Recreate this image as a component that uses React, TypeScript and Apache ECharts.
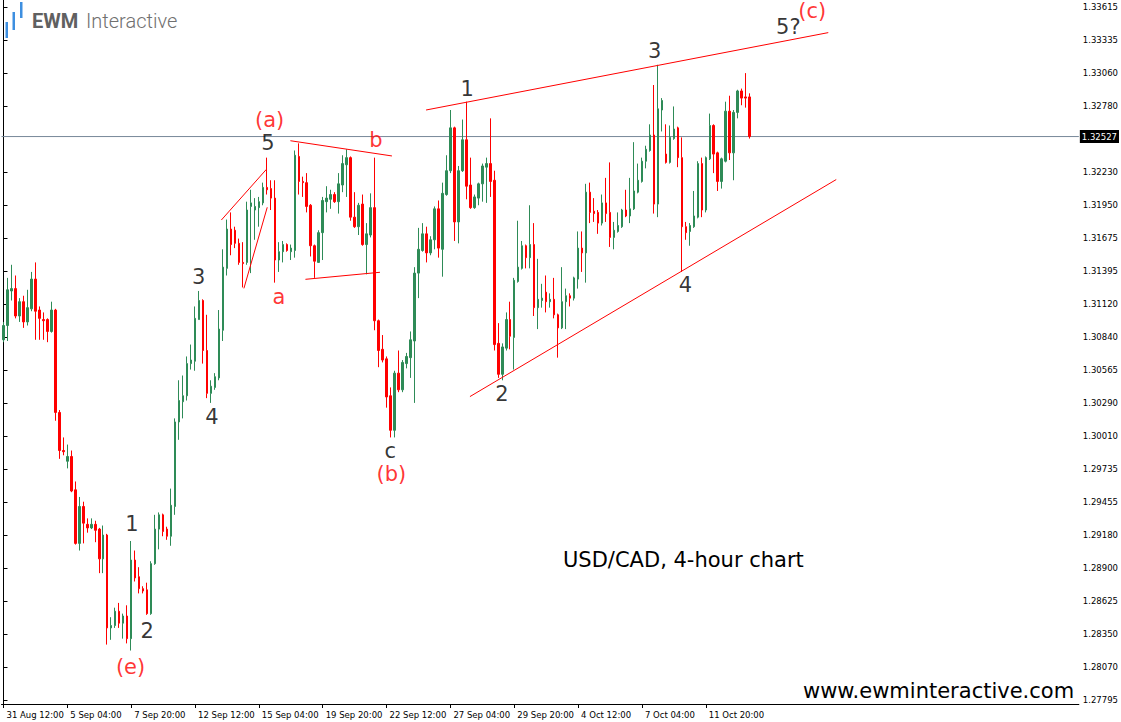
import React, { useEffect, useRef } from "react";
import * as echarts from "echarts";

// ---- data ----
const xTickLabels = [
  "31 Aug 12:00", "5 Sep 04:00", "7 Sep 20:00", "12 Sep 12:00", "15 Sep 04:00", "19 Sep 20:00",
  "22 Sep 12:00", "27 Sep 04:00", "29 Sep 20:00", "4 Oct 12:00", "7 Oct 04:00", "11 Oct 20:00",
];
const barsPerTick = 16;
const totalSlots = 270;
const categories = Array.from({ length: totalSlots }, (_, i) => String(i));

const yTickValues = [
  1.27795, 1.2807, 1.2835, 1.28625, 1.289, 1.2918, 1.29455, 1.29735, 1.3001, 1.3029, 1.30565,
  1.3084, 1.3112, 1.31395, 1.31675, 1.3195, 1.3223, 1.3278, 1.3306, 1.33335, 1.33615,
];
const lastPrice = 1.32527;

// [open, close, low, high]
const ohlc = [
  [1.3082, 1.3094, 1.3080, 1.3097], [1.3094, 1.3124, 1.3081, 1.3134], [1.3123, 1.3125, 1.3115, 1.3145],
  [1.3125, 1.3102, 1.3100, 1.3136], [1.3102, 1.3114, 1.3097, 1.3117], [1.3114, 1.3097, 1.3092, 1.3119],
  [1.3097, 1.3109, 1.3094, 1.3124], [1.3108, 1.3133, 1.3106, 1.3139], [1.3133, 1.3106, 1.3082, 1.3147],
  [1.3107, 1.3100, 1.3082, 1.3110], [1.3099, 1.3098, 1.3082, 1.3105], [1.3099, 1.3089, 1.3080, 1.3100],
  [1.3089, 1.3107, 1.3088, 1.3114], [1.3107, 1.3021, 1.3014, 1.3108], [1.3021, 1.2989, 1.2982, 1.3023],
  [1.2989, 1.2988, 1.2985, 1.3000], [1.2980, 1.2984, 1.2974, 1.2994], [1.2984, 1.2955, 1.2954, 1.2989],
  [1.2956, 1.2911, 1.2910, 1.2963], [1.2911, 1.2942, 1.2905, 1.2950], [1.2942, 1.2928, 1.2911, 1.2946],
  [1.2927, 1.2924, 1.2920, 1.2932], [1.2924, 1.2927, 1.2923, 1.2932], [1.2927, 1.2922, 1.2912, 1.2930],
  [1.2923, 1.2898, 1.2886, 1.2924], [1.2898, 1.2918, 1.2886, 1.2926], [1.2918, 1.2840, 1.2826, 1.2919],
  [1.2840, 1.2842, 1.2830, 1.2849], [1.2842, 1.2854, 1.2840, 1.2857], [1.2854, 1.2844, 1.2840, 1.2861],
  [1.2844, 1.2850, 1.2831, 1.2852], [1.2850, 1.2831, 1.2827, 1.2859], [1.2831, 1.2897, 1.2821, 1.2913],
  [1.2897, 1.2882, 1.2879, 1.2905], [1.2883, 1.2873, 1.2869, 1.2891], [1.2873, 1.2871, 1.2869, 1.2875],
  [1.2872, 1.2852, 1.2851, 1.2878], [1.2852, 1.2894, 1.2851, 1.2896], [1.2894, 1.2923, 1.2893, 1.2935],
  [1.2923, 1.2935, 1.2906, 1.2937], [1.2935, 1.2921, 1.2917, 1.2936], [1.2923, 1.2917, 1.2914, 1.2925],
  [1.2917, 1.2943, 1.2909, 1.2957], [1.2942, 1.3013, 1.2935, 1.3016], [1.3013, 1.3031, 1.2998, 1.3048],
  [1.3030, 1.3035, 1.3016, 1.3052], [1.3035, 1.3062, 1.3031, 1.3068], [1.3062, 1.3065, 1.3057, 1.3078],
  [1.3064, 1.3100, 1.3056, 1.3110], [1.3099, 1.3115, 1.3099, 1.3123], [1.3115, 1.3073, 1.3062, 1.3116],
  [1.3073, 1.3037, 1.3033, 1.3103], [1.3037, 1.3043, 1.3029, 1.3048], [1.3042, 1.3051, 1.3040, 1.3054],
  [1.3050, 1.3091, 1.3048, 1.3107], [1.3090, 1.3143, 1.3081, 1.3158], [1.3142, 1.3175, 1.3136, 1.3183],
  [1.3175, 1.3162, 1.3153, 1.3189], [1.3174, 1.3163, 1.3159, 1.3177], [1.3163, 1.3147, 1.3145, 1.3167],
  [1.3147, 1.3146, 1.3126, 1.3164], [1.3147, 1.3191, 1.3145, 1.3198], [1.3194, 1.3197, 1.3138, 1.3208],
  [1.3191, 1.3194, 1.3166, 1.3201], [1.3193, 1.3198, 1.3177, 1.3202], [1.3197, 1.3210, 1.3195, 1.3214],
  [1.3210, 1.3208, 1.3204, 1.3235], [1.3209, 1.3201, 1.3191, 1.3216], [1.3201, 1.3149, 1.3130, 1.3216],
  [1.3149, 1.3156, 1.3139, 1.3164], [1.3156, 1.3162, 1.3147, 1.3165], [1.3162, 1.3157, 1.3156, 1.3163],
  [1.3156, 1.3159, 1.3149, 1.3162], [1.3157, 1.3237, 1.3151, 1.3241], [1.3236, 1.3215, 1.3204, 1.3247],
  [1.3215, 1.3214, 1.3202, 1.3219], [1.3214, 1.3194, 1.3189, 1.3222], [1.3195, 1.3161, 1.3152, 1.3196],
  [1.3161, 1.3148, 1.3134, 1.3162], [1.3147, 1.3172, 1.3147, 1.3174], [1.3172, 1.3199, 1.3149, 1.3202],
  [1.3198, 1.3201, 1.3189, 1.3211], [1.3200, 1.3204, 1.3192, 1.3208], [1.3204, 1.3198, 1.3197, 1.3206],
  [1.3198, 1.3213, 1.3188, 1.3222], [1.3212, 1.3230, 1.3206, 1.3237], [1.3229, 1.3235, 1.3202, 1.3242],
  [1.3235, 1.3185, 1.3182, 1.3236], [1.3185, 1.3177, 1.3176, 1.3206], [1.3177, 1.3195, 1.3170, 1.3197],
  [1.3196, 1.3162, 1.3161, 1.3204], [1.3162, 1.3171, 1.3137, 1.3180], [1.3170, 1.3193, 1.3168, 1.3205],
  [1.3193, 1.3098, 1.3090, 1.3235], [1.3098, 1.3073, 1.3059, 1.3099], [1.3074, 1.3065, 1.3063, 1.3086],
  [1.3066, 1.3034, 1.3025, 1.3068], [1.3035, 1.3006, 1.3000, 1.3042], [1.3006, 1.3054, 1.3000, 1.3056],
  [1.3054, 1.3040, 1.3038, 1.3073], [1.3040, 1.3063, 1.3038, 1.3065], [1.3062, 1.3068, 1.3058, 1.3071],
  [1.3067, 1.3082, 1.3050, 1.3089], [1.3081, 1.3138, 1.3029, 1.3143], [1.3138, 1.3158, 1.3117, 1.3176],
  [1.3157, 1.3171, 1.3156, 1.3180], [1.3171, 1.3155, 1.3147, 1.3177], [1.3155, 1.3166, 1.3153, 1.3169],
  [1.3166, 1.3192, 1.3158, 1.3194], [1.3192, 1.3159, 1.3151, 1.3199], [1.3158, 1.3205, 1.3135, 1.3214],
  [1.3204, 1.3224, 1.3203, 1.3237], [1.3224, 1.3260, 1.3222, 1.3275], [1.3260, 1.3181, 1.3165, 1.3261],
  [1.3181, 1.3224, 1.3163, 1.3228], [1.3224, 1.3250, 1.3223, 1.3267], [1.3250, 1.3211, 1.3200, 1.3282],
  [1.3212, 1.3193, 1.3192, 1.3235], [1.3193, 1.3202, 1.3192, 1.3204], [1.3201, 1.3213, 1.3195, 1.3214],
  [1.3213, 1.3228, 1.3198, 1.3230], [1.3227, 1.3230, 1.3197, 1.3235], [1.3230, 1.3215, 1.3202, 1.3268],
  [1.3216, 1.3078, 1.3073, 1.3224], [1.3079, 1.3053, 1.3050, 1.3096], [1.3053, 1.3076, 1.3048, 1.3079],
  [1.3075, 1.3099, 1.3073, 1.3105], [1.3099, 1.3085, 1.3074, 1.3114], [1.3084, 1.3132, 1.3057, 1.3134],
  [1.3131, 1.3143, 1.3130, 1.3182], [1.3142, 1.3161, 1.3141, 1.3165], [1.3161, 1.3151, 1.3142, 1.3162],
  [1.3151, 1.3162, 1.3142, 1.3195], [1.3162, 1.3109, 1.3102, 1.3180], [1.3109, 1.3116, 1.3091, 1.3150],
  [1.3115, 1.3117, 1.3109, 1.3129], [1.3122, 1.3114, 1.3105, 1.3136], [1.3114, 1.3116, 1.3109, 1.3121],
  [1.3116, 1.3103, 1.3100, 1.3134], [1.3103, 1.3092, 1.3067, 1.3104], [1.3092, 1.3114, 1.3091, 1.3143],
  [1.3114, 1.3119, 1.3091, 1.3125], [1.3119, 1.3117, 1.3110, 1.3121], [1.3117, 1.3134, 1.3115, 1.3135],
  [1.3133, 1.3159, 1.3125, 1.3173], [1.3159, 1.3155, 1.3139, 1.3173], [1.3155, 1.3206, 1.3130, 1.3213],
  [1.3206, 1.3189, 1.3180, 1.3214], [1.3190, 1.3188, 1.3181, 1.3201], [1.3189, 1.3180, 1.3171, 1.3191],
  [1.3180, 1.3197, 1.3178, 1.3204], [1.3197, 1.3188, 1.3181, 1.3218], [1.3189, 1.3168, 1.3160, 1.3231],
  [1.3168, 1.3174, 1.3158, 1.3181], [1.3173, 1.3178, 1.3172, 1.3189], [1.3177, 1.3191, 1.3176, 1.3192],
  [1.3191, 1.3186, 1.3185, 1.3208], [1.3186, 1.3192, 1.3180, 1.3218], [1.3192, 1.3207, 1.3191, 1.3248],
  [1.3206, 1.3216, 1.3205, 1.3230], [1.3215, 1.3232, 1.3214, 1.3235], [1.3232, 1.3242, 1.3226, 1.3245],
  [1.3241, 1.3254, 1.3240, 1.3263], [1.3254, 1.3196, 1.3188, 1.3296], [1.3196, 1.3276, 1.3185, 1.3313],
  [1.3275, 1.3283, 1.3257, 1.3285], [1.3238, 1.3231, 1.3230, 1.3263], [1.3231, 1.3252, 1.3230, 1.3262],
  [1.3251, 1.3259, 1.3250, 1.3278], [1.3260, 1.3235, 1.3227, 1.3261], [1.3235, 1.3177, 1.3139, 1.3252],
  [1.3177, 1.3172, 1.3166, 1.3181], [1.3173, 1.3178, 1.3161, 1.3180], [1.3177, 1.3186, 1.3176, 1.3207],
  [1.3185, 1.3230, 1.3184, 1.3232], [1.3230, 1.3191, 1.3185, 1.3235], [1.3191, 1.3235, 1.3189, 1.3236],
  [1.3234, 1.3262, 1.3233, 1.3272], [1.3262, 1.3238, 1.3222, 1.3263], [1.3239, 1.3215, 1.3207, 1.3240],
  [1.3215, 1.3234, 1.3209, 1.3235], [1.3232, 1.3274, 1.3231, 1.3282], [1.3274, 1.3239, 1.3233, 1.3287],
  [1.3239, 1.3273, 1.3216, 1.3275], [1.3273, 1.3291, 1.3268, 1.3292], [1.3291, 1.3285, 1.3279, 1.3293],
  [1.3286, 1.3285, 1.3277, 1.3306], [1.3286, 1.32527, 1.3251, 1.3289],
];

// wave annotations: [text, bar index, price, colour]
const BLACK = "#000000";
const RED = "#ff0000";
const waveLabels: [string, number, number, string][] = [
  ["1", 32.2, 1.2927, BLACK], ["2", 36.0, 1.28376, BLACK], ["(e)", 31.85, 1.28069, RED],
  ["3", 48.9, 1.31345, BLACK], ["4", 52.25, 1.30174, BLACK], ["5", 66.25, 1.3247, BLACK],
  ["(a)", 66.7, 1.32666, RED], ["a", 69.0, 1.31182, RED], ["b", 93.35, 1.32498, RED],
  ["c", 96.9, 1.2989, BLACK], ["(b)", 97.2, 1.29695, RED], ["1", 116.2, 1.32926, BLACK],
  ["2", 124.9, 1.30364, BLACK], ["3", 163.2, 1.33246, BLACK], ["4", 170.9, 1.3128, BLACK],
  ["5?", 196.7, 1.33447, BLACK], ["(c)", 202.7, 1.33582, RED],
];

// trend lines: [[bar, price], [bar, price]]
const trendLines: [number, number][][] = [
  [[105.9, 1.3275], [206.7, 1.334]],
  [[116.9, 1.30343], [208.7, 1.32166]],
  [[54.6, 1.31826], [65.9, 1.32252]],
  [[60.25, 1.31252], [66.1, 1.31933]],
  [[71.9, 1.32492], [97.35, 1.32364]],
  [[75.67, 1.31328], [94.35, 1.31387]],
];

const AXIS_FONT = "DejaVu Sans";
const AXIS_SIZE = 8.5;

export default function App() {
  const ref = useRef<HTMLDivElement>(null);
  useEffect(() => {
    if (!ref.current) return;
    const chart = echarts.init(ref.current, null, { renderer: "svg" });
    const candleData = ohlc.map(([o, c, l, h]) => [o, c, Math.min(l, o, c), Math.max(h, o, c)]);
    const isTick = (i: number) => i % barsPerTick === 0 && i / barsPerTick < xTickLabels.length;

    const option: any = {
      animation: false,
      backgroundColor: "#ffffff",
      grid: { left: 1.5, right: 39.5, top: 0, bottom: 18, containLabel: false },
      xAxis: [
        {
          type: "category",
          data: categories,
          boundaryGap: true,
          axisLine: { show: true, lineStyle: { color: "#000", width: 1 } },
          axisTick: {
            show: true,
            interval: (i: number) => isTick(i),
            alignWithLabel: true,
            length: 4,
            lineStyle: { color: "#000" },
          },
          axisLabel: {
            show: true,
            interval: (i: number) => isTick(i),
            formatter: (_v: string, i: number) => (isTick(i) ? xTickLabels[i / barsPerTick] : ""),
            align: "left",
            padding: [0, 0, 0, 3],
            margin: 6,
            color: "#000",
            fontSize: AXIS_SIZE,
            fontFamily: AXIS_FONT,
          },
          splitLine: { show: false },
        },
        { type: "value", min: -0.5, max: totalSlots - 0.5, show: false },
      ],
      yAxis: {
        type: "value",
        position: "right",
        min: 1.27761,
        max: 1.33674,
        axisLine: { show: true, lineStyle: { color: "#000", width: 1 } },
        axisTick: { show: true, inside: false, length: 4, customValues: yTickValues, lineStyle: { color: "#000" } },
        axisLabel: {
          show: true,
          customValues: yTickValues,
          formatter: (v: number) => v.toFixed(5),
          margin: 4,
          color: "#000",
          fontSize: AXIS_SIZE,
          fontFamily: AXIS_FONT,
        },
        splitLine: { show: false },
      },
      series: [
        {
          type: "line",
          xAxisIndex: 1,
          yAxisIndex: 0,
          data: [[-0.5, lastPrice], [totalSlots - 0.5, lastPrice]],
          showSymbol: false,
          symbol: "none",
          silent: true,
          z: 1,
          lineStyle: { color: "#778899", width: 1 },
          endLabel: {
            show: true,
            formatter: () => lastPrice.toFixed(5),
            backgroundColor: "#000",
            color: "#fff",
            fontSize: AXIS_SIZE,
            fontFamily: AXIS_FONT,
            padding: [2, 2, 2, 2],
            distance: 1,
          },
        },
        {
          type: "candlestick",
          xAxisIndex: 0,
          yAxisIndex: 0,
          data: candleData,
          barWidth: 2,
          z: 3,
          itemStyle: {
            color: "#2e8b57",
            color0: "#ff0000",
            borderColor: "#2e8b57",
            borderColor0: "#ff0000",
            borderWidth: 1,
          },
        },
        ...trendLines.map((pts) => ({
          type: "line",
          xAxisIndex: 1,
          yAxisIndex: 0,
          data: pts,
          showSymbol: false,
          symbol: "none",
          silent: true,
          z: 4,
          lineStyle: { color: "#ff0000", width: 1 },
        })),
        {
          type: "scatter",
          xAxisIndex: 1,
          yAxisIndex: 0,
          symbolSize: 1,
          silent: true,
          z: 5,
          itemStyle: { color: "rgba(0,0,0,0)" },
          data: waveLabels.map(([t, k, p, col]) => ({
            name: t,
            value: [k, p],
            label: {
              show: true,
              position: "inside",
              formatter: t,
              color: col,
              fontSize: 21,
              lineHeight: 20,
              fontFamily: "DejaVu Sans",
            },
          })),
        },
      ],
      graphic: [
        { type: "rect", shape: { x: 5.5, y: 22, width: 2.5, height: 16 }, style: { fill: "#3d8fe0" } },
        { type: "rect", shape: { x: 12.5, y: 12, width: 2.5, height: 18 }, style: { fill: "#3d8fe0" } },
        { type: "rect", shape: { x: 20, y: 2, width: 2.5, height: 16 }, style: { fill: "#3d8fe0" } },
        {
          type: "text",
          x: 32,
          y: 21,
          style: { text: "EWM", fill: "#606060", font: "bold 20px Roboto", verticalAlign: "middle" },
        },
        {
          type: "text",
          x: 86,
          y: 21,
          style: { text: "Interactive", fill: "#707070", font: "300 20px Roboto", verticalAlign: "middle" },
        },
        {
          type: "text",
          x: 563,
          y: 560,
          style: { text: "USD/CAD, 4-hour chart", fill: "#000", font: "21px 'DejaVu Sans'", verticalAlign: "middle" },
        },
        {
          type: "text",
          x: 803,
          y: 691,
          style: { text: "www.ewminteractive.com", fill: "#000", font: "21px 'DejaVu Sans'", verticalAlign: "middle" },
        },
      ],
    };
    chart.setOption(option);
    return () => chart.dispose();
  }, []);
  return (
    <div
      ref={ref}
      style={{ position: "fixed", left: 0, top: 0, width: 1121, height: 722, background: "#fff" }}
    />
  );
}
